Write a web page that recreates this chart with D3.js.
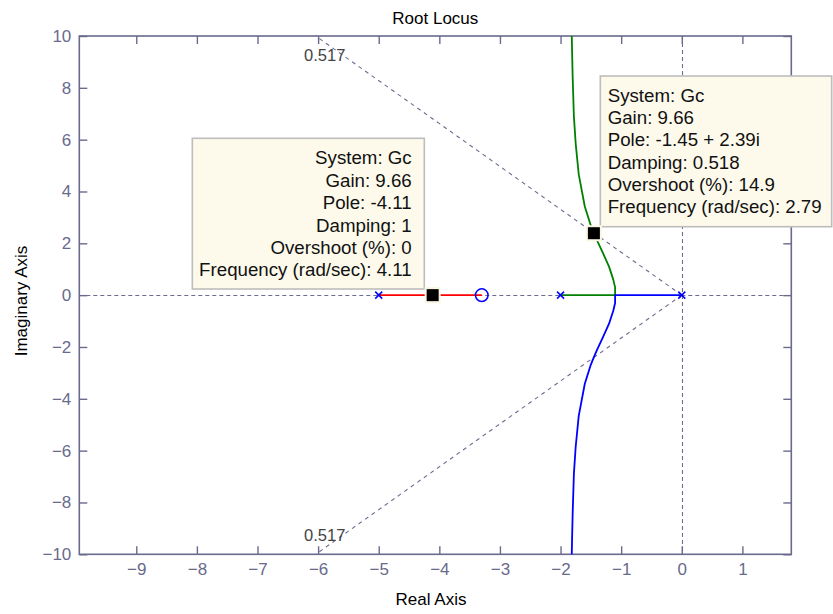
<!DOCTYPE html>
<html>
<head>
<meta charset="utf-8">
<script src="https://cdn.jsdelivr.net/npm/d3@7"></script>
<style>
  html, body { margin: 0; padding: 0; background: #ffffff; }
  svg { display: block; }
  text { font-family: "Liberation Sans", Arial, sans-serif; }
</style>
</head>
<body>
<svg id="chart" width="833" height="614"></svg>
<script>
// Open-loop poles and zeros of Gc
const poles = [-5, -2, 0];
const zeros = [-3.3];

// Root locus branches as [real, imag] pairs
const branchRed = [[-5, 0], [-3.3, 0]];
const branchGreen = [
  [-2, 0], [-1.1, 0], [-1.1, 0.3], [-1.13, 0.6], [-1.2, 1.1], [-1.3, 1.62],
  [-1.4, 2.12], [-1.45, 2.39], [-1.5, 2.68], [-1.6, 3.42], [-1.7, 4.66],
  [-1.75, 5.84], [-1.78, 6.9], [-1.8, 8.41], [-1.81, 9.43], [-1.815, 10]
];
const branchBlue = [
  [0, 0], [-1.1, 0], [-1.1, -0.3], [-1.13, -0.6], [-1.2, -1.1], [-1.3, -1.62],
  [-1.4, -2.12], [-1.45, -2.39], [-1.5, -2.68], [-1.6, -3.42], [-1.7, -4.66],
  [-1.75, -5.84], [-1.78, -6.9], [-1.8, -8.41], [-1.81, -9.43], [-1.815, -10]
];

// Damping ratio grid line
const dampingGrid = [0.517];

// Axis ticks
const xTicks = [-9, -8, -7, -6, -5, -4, -3, -2, -1, 0, 1];
const yTicks = [-10, -8, -6, -4, -2, 0, 2, 4, 6, 8, 10];

// Selected closed-loop poles (data tips)
const tipSystem = ["Gc", "Gc"];
const tipGain = [9.66, 9.66];
const tipRe = [-4.11, -1.45];
const tipIm = [0, 2.39];
const tipDamping = ["1", "0.518"];
const tipOvershoot = ["0", "14.9"];
const tipFreq = [4.11, 2.79];

const svg = d3.select("#chart");
const axisColor = "#6a6a8c";
const gridColor = "#6c6c90";

const plotL = 79.3, plotR = 791.3, plotT = 36, plotB = 554.3;
const x = d3.scaleLinear().domain([-9.94, 1.807]).range([plotL, plotR]);
const y = d3.scaleLinear().domain([-10, 10]).range([plotB, plotT]);

// Title and axis labels
svg.append("text").attr("x", (plotL + plotR) / 2).attr("y", 23.5)
  .attr("text-anchor", "middle").attr("font-size", 17).attr("fill", "#000")
  .text("Root Locus");
svg.append("text").attr("x", 431).attr("y", 605)
  .attr("text-anchor", "middle").attr("font-size", 17).attr("fill", "#000")
  .text("Real Axis");
svg.append("text").attr("transform", "translate(26.5,301) rotate(-90)")
  .attr("text-anchor", "middle").attr("font-size", 17).attr("fill", "#000")
  .text("Imaginary Axis");

// Grid: real and imaginary axes
const grid = svg.append("g").attr("stroke", gridColor).attr("stroke-width", 1.1)
  .attr("stroke-dasharray", "4,3").attr("fill", "none");
grid.append("line").attr("x1", plotL).attr("x2", plotR)
  .attr("y1", Math.round(y(0)) + 0.5).attr("y2", Math.round(y(0)) + 0.5);
grid.append("line").attr("x1", Math.round(x(0)) + 0.5).attr("x2", Math.round(x(0)) + 0.5)
  .attr("y1", plotT).attr("y2", plotB);

// Damping lines from the origin to the top and bottom edges
dampingGrid.forEach(z => {
  const re = -10 * z / Math.sqrt(1 - z * z);
  [10, -10].forEach(im => {
    svg.append("text")
      .attr("x", x(re) + 9).attr("y", im > 0 ? y(im) + 24.5 : y(im) - 13.5)
      .attr("text-anchor", "middle").attr("font-size", 16.5).attr("fill", "#444")
      .text(String(z));
    grid.append("line").attr("x1", x(0)).attr("y1", y(0))
      .attr("x2", x(re)).attr("y2", y(im)).attr("stroke-dasharray", "4,4");
  });
});

// Axes with inward ticks on all four sides
function styleAxis(g) {
  g.select(".domain").remove();
  g.selectAll(".tick line").attr("stroke", axisColor).attr("stroke-width", 1.4);
  g.selectAll(".tick text").attr("fill", axisColor).attr("font-size", 17)
    .attr("font-family", "'Liberation Sans', Arial, sans-serif");
}
svg.append("g").attr("transform", `translate(0,${plotB})`)
  .call(d3.axisBottom(x).tickValues(xTicks).tickSizeInner(-8).tickSizeOuter(0).tickPadding(9))
  .call(styleAxis);
svg.append("g").attr("transform", `translate(0,${plotT})`)
  .call(d3.axisTop(x).tickValues(xTicks).tickSizeInner(-8).tickSizeOuter(0).tickFormat(""))
  .call(styleAxis);
svg.append("g").attr("transform", `translate(${plotL},0)`)
  .call(d3.axisLeft(y).tickValues(yTicks).tickSizeInner(-8).tickSizeOuter(0).tickPadding(8))
  .call(styleAxis);
svg.append("g").attr("transform", `translate(${plotR},0)`)
  .call(d3.axisRight(y).tickValues(yTicks).tickSizeInner(-8).tickSizeOuter(0).tickFormat(""))
  .call(styleAxis);
svg.append("rect").attr("x", plotL).attr("y", plotT)
  .attr("width", plotR - plotL).attr("height", plotB - plotT)
  .attr("fill", "none").attr("stroke", axisColor).attr("stroke-width", 1.6);

// Locus branches
const line = d3.line().x(d => x(d[0])).y(d => y(d[1]));
[[branchRed, "#ff0000"], [branchGreen, "#008000"], [branchBlue, "#0000ff"]].forEach(([b, c]) => {
  svg.append("path").datum(b).attr("d", line).attr("fill", "none")
    .attr("stroke", c).attr("stroke-width", 1.8).attr("stroke-linejoin", "round");
});

// Pole (x) and zero (o) markers
const mk = svg.append("g").attr("stroke", "#0000ff").attr("stroke-width", 1.5).attr("fill", "none");
poles.forEach(p => {
  const cx = x(p), cy = y(0), s = 3.5;
  mk.append("line").attr("x1", cx - s).attr("y1", cy - s).attr("x2", cx + s).attr("y2", cy + s);
  mk.append("line").attr("x1", cx - s).attr("y1", cy + s).attr("x2", cx + s).attr("y2", cy - s);
});
zeros.forEach(zr => {
  mk.append("circle").attr("cx", x(zr)).attr("cy", y(0)).attr("r", 6.3);
});

// Data tip boxes
const tipBoxes = [
  { x0: 192.3, y0: 138.3, x1: 424.3, y1: 289, anchor: "end", tx: 411.7, ty: 164.2, dy: 22.45 },
  { x0: 600.3, y0: 76, x1: 831.7, y1: 226.7, anchor: "start", tx: 607.7, ty: 101.5, dy: 22.35 }
];
tipBoxes.forEach((b, i) => {
  const pole = tipIm[i] === 0 ? `${tipRe[i]}` : `${tipRe[i]} + ${tipIm[i]}i`;
  const lines = [
    `System: ${tipSystem[i]}`,
    `Gain: ${tipGain[i]}`,
    `Pole: ${pole}`,
    `Damping: ${tipDamping[i]}`,
    `Overshoot (%): ${tipOvershoot[i]}`,
    `Frequency (rad/sec): ${tipFreq[i]}`
  ];
  svg.append("rect").attr("x", b.x0).attr("y", b.y0)
    .attr("width", b.x1 - b.x0).attr("height", b.y1 - b.y0)
    .attr("fill", "#fdfaec").attr("stroke", "#bdbdbd").attr("stroke-width", 1.6);
  const t = svg.append("text").attr("font-size", 18.7).attr("fill", "#111")
    .attr("text-anchor", b.anchor);
  lines.forEach((l, k) => {
    t.append("tspan").attr("x", b.tx).attr("y", b.ty + k * b.dy).text(l);
  });
});

// Selected pole markers
tipRe.forEach((re, i) => {
  svg.append("rect").attr("x", x(re) - 7).attr("y", y(tipIm[i]) - 7)
    .attr("width", 14).attr("height", 14)
    .attr("fill", "#000").attr("stroke", "#fbf6e4").attr("stroke-width", 2);
});
</script>
</body>
</html>
